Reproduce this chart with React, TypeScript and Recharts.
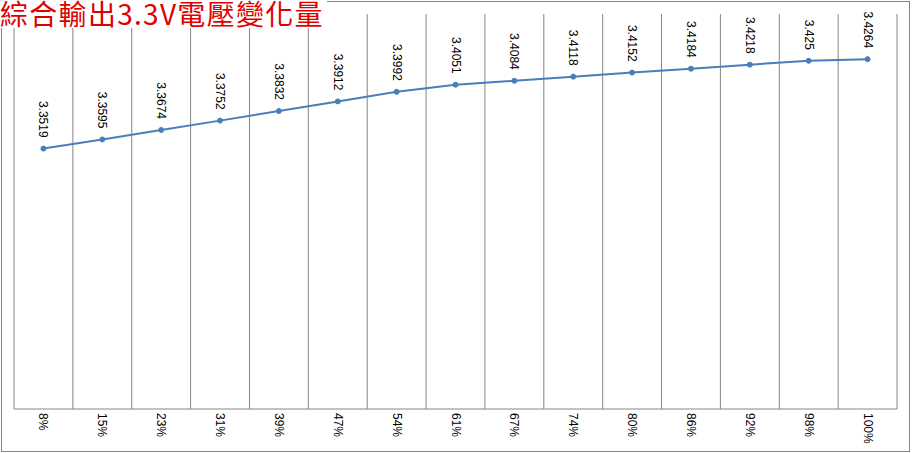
import React from "react";
import { LineChart, Line, XAxis, YAxis, CartesianGrid, LabelList } from "recharts";

const categories = ["8%", "15%", "23%", "31%", "39%", "47%", "54%", "61%", "67%", "74%", "80%", "86%", "92%", "98%", "100%"];
const voltages = [3.3519, 3.3595, 3.3674, 3.3752, 3.3832, 3.3912, 3.3992, 3.4051, 3.4084, 3.4118, 3.4152, 3.4184, 3.4218, 3.425, 3.4264];
const yDomain = [3.135, 3.464];
const title = "綜合輸出3.3V電壓變化量";

const data = categories.map((c, i) => ({ name: c, v: voltages[i] }));

const GRID = "#868686";
const LINE = "#4a7ebb";
const FONT = '"Liberation Sans", Arial, sans-serif';

function XTick(props: any) {
  const { x, y, payload } = props;
  return (
    <text
      transform={`translate(${x},${y}) rotate(90)`}
      textAnchor="start"
      dominantBaseline="central"
      fontSize={12}
      fontFamily={FONT}
      fill="#000"
    >
      {payload.value}
    </text>
  );
}

function PointLabel(props: any) {
  const { x, y, value } = props;
  return (
    <text
      transform={`translate(${x},${y - 11}) rotate(90)`}
      textAnchor="end"
      dominantBaseline="central"
      fontSize={12}
      fontFamily={FONT}
      fill="#000"
    >
      {value}
    </text>
  );
}

export default function App() {
  const n = categories.length;
  return (
    <div style={{ position: "absolute", left: 0, top: 0, width: 913, height: 453, background: "#fff" }}>
      <div
        style={{
          position: "absolute",
          left: 1,
          top: 1,
          width: 907,
          height: 449,
          border: `1px solid ${GRID}`,
        }}
      />
      <div style={{ position: "absolute", left: 0, top: 0 }}>
        <LineChart width={913} height={453} data={data} margin={{ top: 14, right: 16, left: 14, bottom: 0 }}>
          <CartesianGrid
            horizontal={false}
            stroke={GRID}
            verticalCoordinatesGenerator={({ offset }: any) =>
              Array.from({ length: n + 1 }, (_, i) => offset.left + (offset.width * i) / n)
            }
          />
          <XAxis
            dataKey="name"
            scale="band"
            height={44}
            axisLine={{ stroke: GRID }}
            tickLine={false}
            tickSize={0}
            tickMargin={4}
            interval={0}
            tick={<XTick />}
          />
          <YAxis hide domain={yDomain} type="number" allowDataOverflow />
          <Line
            dataKey="v"
            stroke={LINE}
            strokeWidth={2}
            dot={{ r: 2.5, fill: LINE, stroke: LINE, strokeWidth: 1 }}
            activeDot={false}
            isAnimationActive={false}
          >
            <LabelList dataKey="v" content={<PointLabel />} />
          </Line>
        </LineChart>
      </div>
      <div
        style={{
          position: "absolute",
          left: 0,
          top: 0,
          height: 28,
          paddingRight: 3,
          background: "#fff",
          color: "#e00000",
          fontFamily: '"Noto Sans CJK TC", "Noto Sans CJK SC", sans-serif',
          fontSize: 28,
          lineHeight: "26px",
          letterSpacing: 1.3,
          whiteSpace: "nowrap",
        }}
      >
        {title}
      </div>
    </div>
  );
}
